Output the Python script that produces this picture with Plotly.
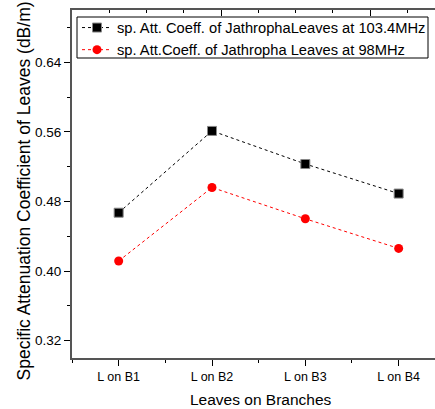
import plotly.graph_objects as go

categories = ["L on B1", "L on B2", "L on B3", "L on B4"]
positions = [1, 2, 3, 4]
att_103 = [0.467, 0.561, 0.523, 0.489]
att_98 = [0.4115, 0.496, 0.460, 0.426]
name_103 = "sp. Att. Coeff. of JathrophaLeaves at 103.4MHz"
name_98 = "sp. Att.Coeff. of Jathropha Leaves at 98MHz"
y_ticks = [0.32, 0.40, 0.48, 0.56, 0.64]

# the original frame runs past the right edge of the 435 px view
W, H = 470, 409
ML, MR, MT, MB = 72, 0, 10, 51
PW = W - ML - MR
PH = H - MT - MB
XSTEP = 93.33

FONT = "Liberation Sans, Arial, sans-serif"
AXC = "#555555"


def px_x(p):
    return (p - ML) / PW


def px_y(p):
    return 1 - (p - MT) / PH


fig = go.Figure()
fig.add_trace(go.Scatter(
    x=positions, y=att_103, name=name_103, mode="lines+markers",
    line=dict(color="black", width=1, dash="dot"),
    marker=dict(symbol="square", size=9, color="black",
                line=dict(color="#888888", width=1)),
))
fig.add_trace(go.Scatter(
    x=positions, y=att_98, name=name_98, mode="lines+markers",
    line=dict(color="red", width=1, dash="dot"),
    marker=dict(symbol="circle", size=9, color="red"),
))
# invisible trace so the top axis is drawn
fig.add_trace(go.Scatter(x=[None], y=[None], xaxis="x2", showlegend=False,
                         hoverinfo="skip"))

fig.update_layout(
    width=W, height=H,
    margin=dict(l=ML, r=MR, t=MT, b=MB, autoexpand=False),
    paper_bgcolor="white", plot_bgcolor="white",
    font=dict(family=FONT, color="black", size=13),
    showlegend=True,
    legend=dict(
        x=px_x(77), y=px_y(11.5), xanchor="left", yanchor="top",
        borderwidth=0, bgcolor="rgba(0,0,0,0)",
        font=dict(size=14.7, family=FONT), tracegroupgap=0,
        itemwidth=30,
    ),
    xaxis=dict(
        range=[0.5, 0.5 + PW / XSTEP],
        tickvals=positions, ticktext=categories,
        ticks="outside", ticklen=6, tickwidth=1, tickcolor="black",
        showline=True, linecolor=AXC, linewidth=2,
        showgrid=False, zeroline=False,
        tickfont=dict(size=12.5),
        minor=dict(tick0=0.5, dtick=1, ticks="outside", ticklen=3,
                   tickcolor="black", showgrid=False),
    ),
    xaxis2=dict(
        overlaying="x", side="top", range=[0, PW],
        tick0=0, dtick=149, ticks="inside", ticklen=6, tickwidth=1,
        tickcolor="black", showticklabels=False,
        showline=True, linecolor=AXC, linewidth=2,
        showgrid=False, zeroline=False,
        minor=dict(tick0=0, dtick=37.25, ticks="inside", ticklen=3,
                   tickcolor="black", showgrid=False),
    ),
    yaxis=dict(
        range=[0.30, 0.70],
        tickvals=y_ticks, tickformat=".2f",
        ticks="outside", ticklen=6, tickwidth=1, tickcolor="black",
        showline=True, linecolor=AXC, linewidth=2,
        showgrid=False, zeroline=False,
        tickfont=dict(size=13.5),
        minor=dict(tick0=0.32, dtick=0.04, ticks="outside", ticklen=3,
                   tickcolor="black", showgrid=False),
    ),
)

# legend frame
fig.add_shape(
    type="rect", xref="paper", yref="paper",
    x0=px_x(77), x1=px_x(428), y0=px_y(58), y1=px_y(17),
    line=dict(color="black", width=1), fillcolor="white", layer="below",
)

fig.add_annotation(
    text="Leaves on Branches", xref="paper", yref="paper",
    x=px_x(261), y=px_y(400),
    xanchor="center", yanchor="middle", showarrow=False,
    font=dict(size=15.5, family=FONT),
)
fig.add_annotation(
    text="Specific Attenuation Coefficient of Leaves (dB/m)",
    xref="paper", yref="paper", textangle=-90,
    x=px_x(23), y=px_y(191.5),
    xanchor="center", yanchor="middle", showarrow=False,
    font=dict(size=17.5, family=FONT),
)

fig.write_html(
    "out.html",
    config={"displayModeBar": False},
    post_script="document.body.style.margin='0';document.body.style.overflow='hidden';",
)
